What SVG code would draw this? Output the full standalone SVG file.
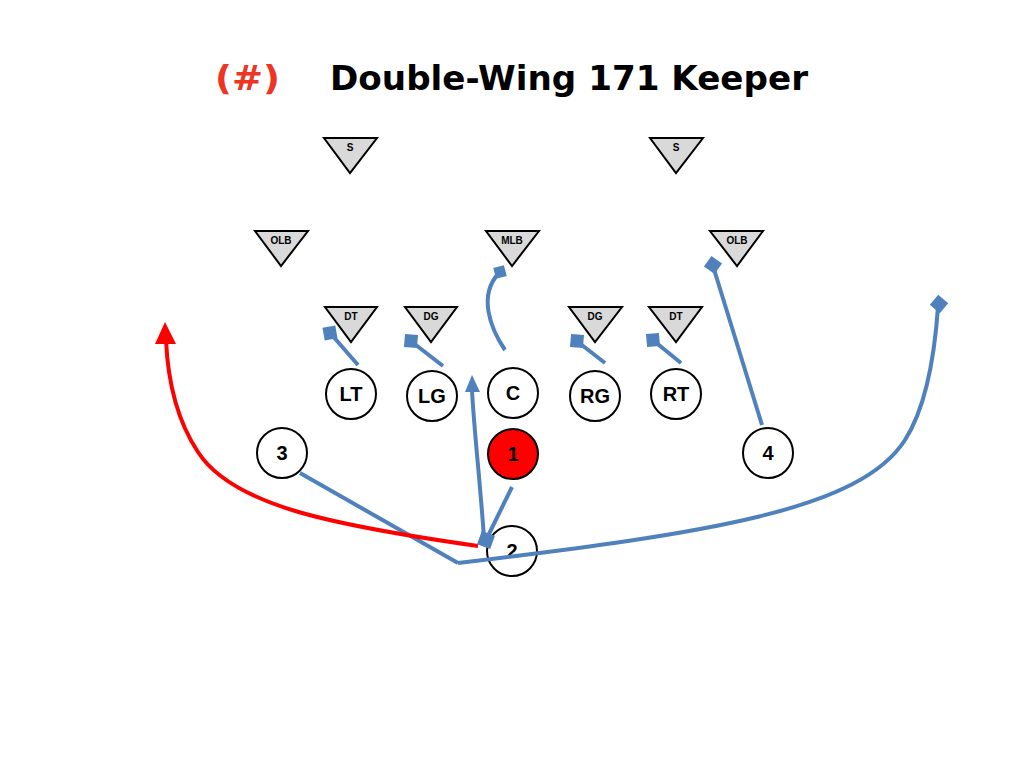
<svg xmlns="http://www.w3.org/2000/svg" width="1024" height="768" viewBox="0 0 1024 768">
<defs>
<style>
.def{fill:#d9d9d9;stroke:#000;stroke-width:2;stroke-linejoin:miter}
.dl{font-family:"Liberation Sans",Arial,sans-serif;font-size:10px;font-weight:bold;text-anchor:middle;fill:#000}
.off{fill:#fff;stroke:#000;stroke-width:2}
.ol{font-family:"Liberation Sans",Arial,sans-serif;font-size:20px;font-weight:bold;text-anchor:middle;fill:#000}
.blue{fill:none;stroke:#4f81bd;stroke-width:4}
.red{fill:none;stroke:#ff0000;stroke-width:4}
.sq{fill:#4f81bd}
</style>
</defs>
<rect width="1024" height="768" fill="#fff"/>
<g id="title">
<text x="215" y="90" font-family="'DejaVu Sans',Verdana,sans-serif" font-weight="bold" font-size="33" fill="#ee3524" textLength="65" lengthAdjust="spacingAndGlyphs">(#)</text>
<text x="330" y="90" font-family="'DejaVu Sans',Verdana,sans-serif" font-weight="bold" font-size="33" fill="#000" textLength="478" lengthAdjust="spacingAndGlyphs">Double-Wing 171 Keeper</text>
</g>
<g id="defense">
<g id="S-left"><polygon class="def" points="324,138 377,138 350,173"/><text class="dl" x="350" y="151">S</text></g>
<g id="S-right"><polygon class="def" points="650,138 703,138 676,173"/><text class="dl" x="676" y="151">S</text></g>
<g id="OLB-left"><polygon class="def" points="255,231 308,231 281,266"/><text class="dl" x="281" y="244">OLB</text></g>
<g id="MLB"><polygon class="def" points="486,231 539,231 512,266"/><text class="dl" x="512" y="244">MLB</text></g>
<g id="OLB-right"><polygon class="def" points="710,231 763,231 737,266"/><text class="dl" x="737" y="244">OLB</text></g>
<g id="DT-left"><polygon class="def" points="325,307 377,307 351,342"/><text class="dl" x="351" y="320">DT</text></g>
<g id="DG-left"><polygon class="def" points="405,307 457,307 431,342"/><text class="dl" x="431" y="320">DG</text></g>
<g id="DG-right"><polygon class="def" points="569,307 622,307 595,342"/><text class="dl" x="595" y="320">DG</text></g>
<g id="DT-right"><polygon class="def" points="649,307 702,307 676,342"/><text class="dl" x="676" y="320">DT</text></g>
</g>
<g id="offense">
<g id="LT"><circle class="off" cx="351" cy="394" r="25"/><text class="ol" x="351" y="401">LT</text></g>
<g id="LG"><circle class="off" cx="432" cy="396" r="25"/><text class="ol" x="432" y="403">LG</text></g>
<g id="C"><circle class="off" cx="513" cy="393" r="25"/><text class="ol" x="513" y="400">C</text></g>
<g id="RG"><circle class="off" cx="595" cy="396" r="25"/><text class="ol" x="595" y="403">RG</text></g>
<g id="RT"><circle class="off" cx="676" cy="394" r="25"/><text class="ol" x="676" y="401">RT</text></g>
<g id="p3"><circle class="off" cx="282" cy="453" r="25"/><text class="ol" x="282" y="460">3</text></g>
<g id="p1"><circle cx="513" cy="454" r="25" fill="#ff0000" stroke="#000" stroke-width="2"/><text class="ol" x="513" y="461">1</text></g>
<g id="p4"><circle class="off" cx="768" cy="453" r="25"/><text class="ol" x="768" y="460">4</text></g>
<g id="p2"><circle class="off" cx="512" cy="551" r="25"/><text class="ol" x="512" y="558">2</text></g>
</g>
<g id="connectors">
<line class="blue" x1="358" y1="365" x2="331" y2="334"/>
<rect class="sq" x="-6.5" y="-6.5" width="13" height="13" transform="translate(330,333) rotate(-10)"/>
<line class="blue" x1="443" y1="366" x2="412" y2="342"/>
<rect class="sq" x="-6.5" y="-6.5" width="13" height="13" transform="translate(411,341) rotate(5)"/>
<line class="blue" x1="605" y1="363" x2="578" y2="342"/>
<rect class="sq" x="-6.5" y="-6.5" width="13" height="13" transform="translate(577,341) rotate(5)"/>
<line class="blue" x1="681" y1="363" x2="654" y2="341"/>
<rect class="sq" x="-6.5" y="-6.5" width="13" height="13" transform="translate(653,340) rotate(-5)"/>
<path class="blue" d="M505,350 C490,328 478,295 499,273"/>
<rect class="sq" x="-5.5" y="-5.5" width="11" height="11" transform="translate(500,272) rotate(-15)"/>
<line class="blue" x1="762" y1="425" x2="713" y2="266"/>
<rect class="sq" x="-6.5" y="-6.5" width="13" height="13" transform="translate(713,265) rotate(35)"/>
<path class="blue" d="M458,563 C710,533 860,510 905,440 C928,404 935,350 938,307"/>
<rect class="sq" x="-6.5" y="-6.5" width="13" height="13" transform="translate(939,304) rotate(40)"/>
<line class="blue" x1="300" y1="473" x2="458" y2="563"/>
<path class="red" d="M478,546 C330,525 232,505 198,452 C178,422 168,385 166,340"/>
<polygon points="165,322 155,344 176,344" fill="#ff0000"/>
<path class="blue" d="M484,538 C480,480 474,430 472,390"/>
<polygon points="472,375 465,392 480,392" fill="#4f81bd"/>
<line class="blue" x1="512" y1="487" x2="487" y2="538"/>
<rect class="sq" x="-7" y="-7" width="14" height="14" transform="translate(486,540) rotate(20)"/>
</g>
</svg>
